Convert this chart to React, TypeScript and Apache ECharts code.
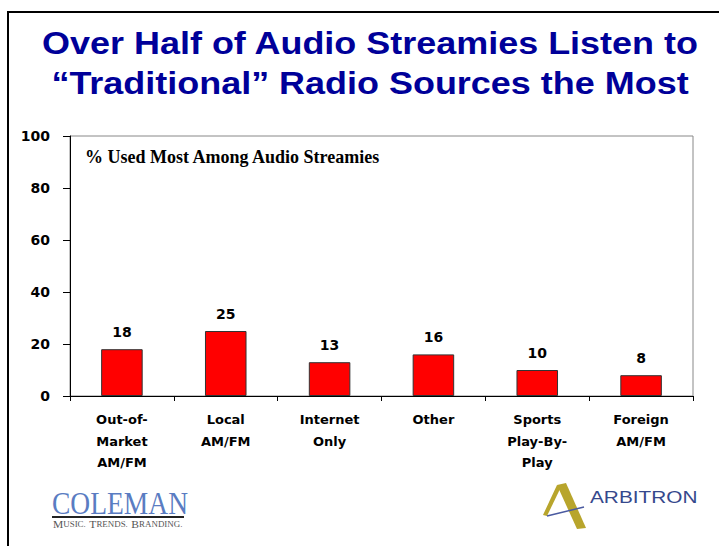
import React, { useEffect, useRef } from "react";
import * as echarts from "echarts";

const categories = [
  "Out-of-\nMarket\nAM/FM",
  "Local\nAM/FM",
  "Internet\nOnly",
  "Other",
  "Sports\nPlay-By-\nPlay",
  "Foreign\nAM/FM",
];
const values = [18, 25, 13, 16, 10, 8];
const titleLines = [
  "Over Half of Audio Streamies Listen to",
  "\u201CTraditional\u201D Radio Sources the Most",
];
const subtitle = "% Used Most Among Audio Streamies";
const yMin = 0;
const yMax = 100;
const yInterval = 20;

const SANS = "'DejaVu Sans', sans-serif";

export default function App() {
  const ref = useRef<HTMLDivElement>(null);
  useEffect(() => {
    if (!ref.current) return;
    const chart = echarts.init(ref.current, undefined, { renderer: "svg" });
    chart.setOption({
      animation: false,
      backgroundColor: "#ffffff",
      textStyle: { fontFamily: SANS },
      title: [
        {
          text: subtitle,
          left: 85,
          top: 148,
          padding: 0,
          textStyle: {
            fontFamily: "'Liberation Serif', 'Times New Roman', serif",
            fontSize: 18,
            fontWeight: "bold",
            color: "#000000",
          },
        },
      ],
      grid: {
        left: 70,
        right: 26,
        top: 136,
        bottom: 150,
        show: true,
        borderColor: "#888888",
        borderWidth: 1,
        backgroundColor: "transparent",
      },
      xAxis: {
        type: "category",
        data: categories,
        axisLine: { show: true, lineStyle: { color: "#000000", width: 1 } },
        axisTick: { show: true, length: 5, lineStyle: { color: "#000000" } },
        axisLabel: {
          interval: 0,
          margin: 13,
          fontFamily: SANS,
          fontWeight: "bold",
          fontSize: 13,
          lineHeight: 21.5,
          color: "#000000",
        },
      },
      yAxis: {
        type: "value",
        min: yMin,
        max: yMax,
        interval: yInterval,
        splitLine: { show: false },
        axisLine: { show: true, lineStyle: { color: "#000000", width: 1 } },
        axisTick: { show: true, length: 7, lineStyle: { color: "#000000" } },
        axisLabel: {
          margin: 20,
          fontFamily: SANS,
          fontWeight: "bold",
          fontSize: 14,
          color: "#000000",
        },
      },
      series: [
        {
          type: "bar",
          data: values,
          barWidth: "40%",
          itemStyle: { color: "#FF0000", borderColor: "#333333", borderWidth: 1 },
          label: {
            show: true,
            position: "top",
            distance: 10,
            fontFamily: SANS,
            fontWeight: "bold",
            fontSize: 14,
            color: "#000000",
          },
        },
      ],
      graphic: [
        {
          type: "rect",
          shape: { x: 8, y: 12, width: 740, height: 560 },
          style: { fill: "none", stroke: "#000000", lineWidth: 2 },
          silent: true,
        },
        {
          type: "text",
          x: 370,
          y: 23,
          scaleX: 1.16,
          style: {
            text: titleLines.join("\n"),
            fill: "#000099",
            font: "bold 31px 'Liberation Sans', Arial, sans-serif",
            lineHeight: 40,
            align: "center",
            verticalAlign: "top",
            textAlign: "center",
            textVerticalAlign: "top",
          },
        },
        {
          type: "text",
          x: 52,
          y: 503,
          scaleX: 0.86,
          style: {
            text: "COLEMAN",
            fill: "#5a7cc2",
            font: "32px 'Liberation Serif', serif",
            align: "left",
            verticalAlign: "middle",
            textAlign: "left",
            textVerticalAlign: "middle",
          },
        },
        {
          type: "line",
          shape: { x1: 52, y1: 517, x2: 184, y2: 517 },
          style: { stroke: "#222222", lineWidth: 2 },
        },
        {
          type: "text",
          x: 53,
          y: 524,
          scaleX: 1.05,
          style: {
            text: "{b|M}{s|USIC.} {b|T}{s|RENDS.} {b|B}{s|RANDING.}",
            fill: "#555555",
            align: "left",
            verticalAlign: "middle",
            textAlign: "left",
            textVerticalAlign: "middle",
            rich: {
              b: { fontFamily: "'Liberation Serif', serif", fontSize: 11, fill: "#555555", color: "#555555" },
              s: { fontFamily: "'Liberation Serif', serif", fontSize: 8.5, fill: "#555555", color: "#555555" },
            },
          },
        },
        {
          type: "polygon",
          shape: { points: [[557, 485], [566, 483], [586, 528], [577, 529]] },
          style: { fill: "#b8a52c" },
        },
        {
          type: "polygon",
          shape: { points: [[557, 485], [561, 487], [547, 516], [543, 515]] },
          style: { fill: "#b8a52c" },
        },
        {
          type: "line",
          shape: { x1: 547, y1: 516, x2: 584, y2: 507 },
          style: { stroke: "#4a5aa0", lineWidth: 1.5 },
        },
        {
          type: "text",
          x: 590,
          y: 497,
          scaleX: 1.3,
          style: {
            text: "ARBITRON",
            fill: "#35488c",
            font: "16px 'Liberation Sans', Arial, sans-serif",
            align: "left",
            verticalAlign: "middle",
            textAlign: "left",
            textVerticalAlign: "middle",
          },
        },
      ],
    });
    return () => chart.dispose();
  }, []);
  return (
    <div
      ref={ref}
      style={{ position: "absolute", left: 0, top: 0, width: 719, height: 546 }}
    />
  );
}
